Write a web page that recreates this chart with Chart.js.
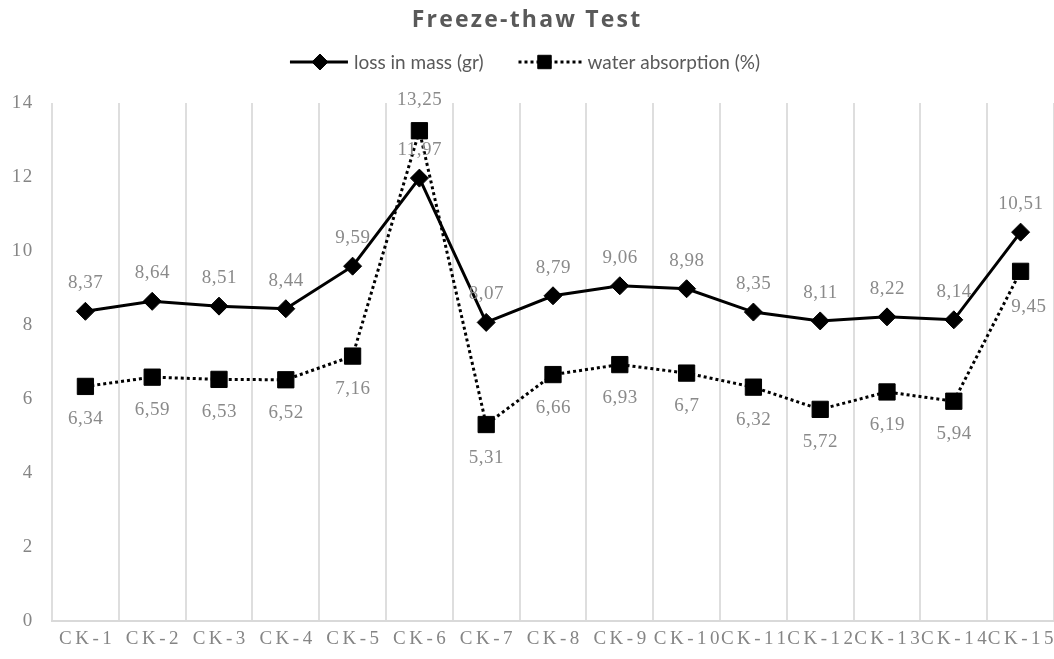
<!DOCTYPE html>
<html>
<head>
<meta charset="utf-8">
<script src="https://cdn.jsdelivr.net/npm/chart.js@4.4.1/dist/chart.umd.min.js"></script>
<style>
  html, body { margin: 0; padding: 0; background: #ffffff; overflow: hidden; }
  #wrap { position: relative; width: 1054px; height: 659px; }
</style>
</head>
<body>
<div id="wrap"><canvas id="chart" width="1054" height="659"></canvas></div>
<script>
// Freeze-thaw test results per specimen
const categories = ['CK-1', 'CK-2', 'CK-3', 'CK-4', 'CK-5', 'CK-6', 'CK-7', 'CK-8',
                    'CK-9', 'CK-10', 'CK-11', 'CK-12', 'CK-13', 'CK-14', 'CK-15'];
const lossInMass = [8.37, 8.64, 8.51, 8.44, 9.59, 11.97, 8.07, 8.79, 9.06, 8.98, 8.35, 8.11, 8.22, 8.14, 10.51];
const waterAbsorption = [6.34, 6.59, 6.53, 6.52, 7.16, 13.25, 5.31, 6.66, 6.93, 6.7, 6.32, 5.72, 6.19, 5.94, 9.45];
const yTicks = [0, 2, 4, 6, 8, 10, 12, 14];
const seriesNames = ['loss in mass (gr)', 'water absorption (%)'];
const chartTitle = 'Freeze-thaw Test';

const GRAY_TEXT = '#858585';
const SERIF = '"Liberation Serif", "DejaVu Serif", serif';
const SANS = '"Open Sans", "Liberation Sans", sans-serif';
const LEGEND_SANS = 'Lato, "Open Sans", sans-serif';

// Comma as decimal separator
const fmt = v => String(v).replace('.', ',');

// Applies canvas letter spacing to the tick labels and the title
const spacedText = {
  id: 'spacedText',
  beforeDraw(chart, args, opts) {
    const wrap = (obj, key, spacing, shift) => {
      if (!obj || obj['__sp_' + key]) return;
      const orig = obj[key];
      obj[key] = function (...a) {
        const ctx = chart.ctx;
        ctx.save();
        ctx.letterSpacing = spacing + 'px';
        ctx.translate(spacing / 2 + (shift || 0), 0);
        orig.apply(this, a);
        ctx.restore();
      };
      obj['__sp_' + key] = true;
    };
    wrap(chart.scales.x, 'drawLabels', opts.xSpacing);
    wrap(chart.scales.y, 'drawLabels', opts.ySpacing);
    wrap(chart.titleBlock, 'draw', opts.titleSpacing, opts.titleShift);
  }
};

// Value labels next to each point
const pointLabels = {
  id: 'pointLabels',
  afterDatasetsDraw(chart, args, opts) {
    const ctx = chart.ctx;
    ctx.save();
    ctx.font = opts.font;
    ctx.fillStyle = opts.color;
    ctx.textAlign = 'center';
    ctx.textBaseline = 'middle';
    ctx.letterSpacing = opts.letterSpacing + 'px';
    chart.data.datasets.forEach((ds, di) => {
      const meta = chart.getDatasetMeta(di);
      const special = opts.overrides[di] || {};
      meta.data.forEach((pt, i) => {
        const o = special[i] || {};
        const dx = (o.dx || 0) + opts.letterSpacing / 2;
        const dy = o.dy !== undefined ? o.dy : opts.offsets[di];
        ctx.fillText(fmt(ds.data[i]), pt.x + dx, pt.y + dy);
      });
    });
    ctx.restore();
  }
};

// Legend row: line sample with marker, then series name
const lineLegend = {
  id: 'lineLegend',
  afterDraw(chart, args, opts) {
    const ctx = chart.ctx;
    const H = Chart.helpers;
    ctx.save();
    ctx.font = opts.font;
    ctx.textBaseline = 'middle';
    ctx.textAlign = 'left';
    const items = chart.data.datasets.map((ds, i) => ({
      ds, sample: opts.sampleWidths[i], mark: opts.markerAt[i], text: ds.label, tw: ctx.measureText(ds.label).width
    }));
    let total = 0;
    items.forEach((it, i) => {
      total += it.sample + opts.textGap + it.tw + (i < items.length - 1 ? opts.itemGap : 0);
    });
    let x = chart.width / 2 + opts.shift - total / 2;
    const y = opts.y;
    items.forEach(it => {
      const ds = it.ds;
      ctx.save();
      ctx.strokeStyle = ds.borderColor;
      ctx.lineWidth = ds.borderWidth;
      ctx.setLineDash(ds.borderDash || []);
      ctx.beginPath();
      ctx.moveTo(x, y);
      ctx.lineTo(x + it.sample, y);
      ctx.stroke();
      ctx.restore();
      ctx.save();
      ctx.fillStyle = ds.pointBackgroundColor;
      ctx.strokeStyle = ds.pointBorderColor;
      ctx.lineWidth = ds.pointBorderWidth;
      H.drawPoint(ctx, { pointStyle: ds.pointStyle, radius: ds.legendRadius, rotation: 0, borderWidth: ds.pointBorderWidth }, x + it.mark, y);
      ctx.restore();
      ctx.fillStyle = opts.color;
      ctx.fillText(it.text, x + it.sample + opts.textGap, y + 1);
      x += it.sample + opts.textGap + it.tw + opts.itemGap;
    });
    ctx.restore();
  }
};

new Chart(document.getElementById('chart'), {
  type: 'line',
  data: {
    labels: categories,
    datasets: [
      {
        label: seriesNames[0],
        data: lossInMass,
        borderColor: '#000000',
        borderWidth: 3,
        tension: 0,
        pointStyle: 'rectRot',
        pointRadius: 9,
        legendRadius: 8,
        pointBackgroundColor: '#000000',
        pointBorderColor: '#000000',
        pointBorderWidth: 1
      },
      {
        label: seriesNames[1],
        data: waterAbsorption,
        borderColor: '#000000',
        borderWidth: 3,
        borderDash: [3, 3],
        tension: 0,
        pointStyle: 'rect',
        pointRadius: 11.5,
        legendRadius: 9.5,
        pointBackgroundColor: '#000000',
        pointBorderColor: '#000000',
        pointBorderWidth: 1
      }
    ]
  },
  options: {
    responsive: false,
    animation: false,
    devicePixelRatio: 1,
    layout: { autoPadding: false, padding: { left: 0, right: 0, top: 0, bottom: 9 } },
    scales: {
      x: {
        offset: true,
        afterFit: axis => { axis.height = 29; axis.paddingLeft = 0; axis.paddingRight = 0; },
        grid: { offset: true, color: '#dedede', lineWidth: 2, drawTicks: false },
        border: { display: true, color: '#d9d9d9', width: 2 },
        ticks: {
          color: GRAY_TEXT,
          font: { family: SERIF, size: 19 },
          padding: 7,
          maxRotation: 0,
          autoSkip: false
        }
      },
      y: {
        min: yTicks[0],
        max: yTicks[yTicks.length - 1],
        afterBuildTicks: axis => { axis.ticks = yTicks.map(v => ({ value: v })); },
        afterFit: axis => { axis.width = 52; },
        grid: { display: false, drawTicks: false },
        border: { display: false },
        ticks: {
          color: GRAY_TEXT,
          font: { family: SERIF, size: 19 },
          padding: 19
        }
      }
    },
    plugins: {
      legend: { display: false },
      tooltip: { enabled: false },
      title: {
        display: true,
        text: chartTitle,
        color: '#595959',
        font: { family: SANS, size: 23, weight: 'bold' },
        padding: { top: 7, bottom: 68.4 }
      },
      spacedText: { xSpacing: 3.5, ySpacing: 1.5, titleSpacing: 2.2, titleShift: -1 },
      pointLabels: {
        font: '19px ' + SERIF,
        color: '#8a8a8a',
        letterSpacing: 0.5,
        offsets: [-28, 33],
        overrides: { 1: { 5: { dy: -31 }, 14: { dx: 8, dy: 36 } } }
      },
      lineLegend: {
        y: 62,
        shift: -2,
        font: '19px ' + LEGEND_SANS,
        color: '#595959',
        sampleWidths: [58, 63],
        markerAt: [30, 26],
        textGap: 6,
        itemGap: 35
      }
    }
  },
  plugins: [spacedText, pointLabels, lineLegend]
});
</script>
</body>
</html>
